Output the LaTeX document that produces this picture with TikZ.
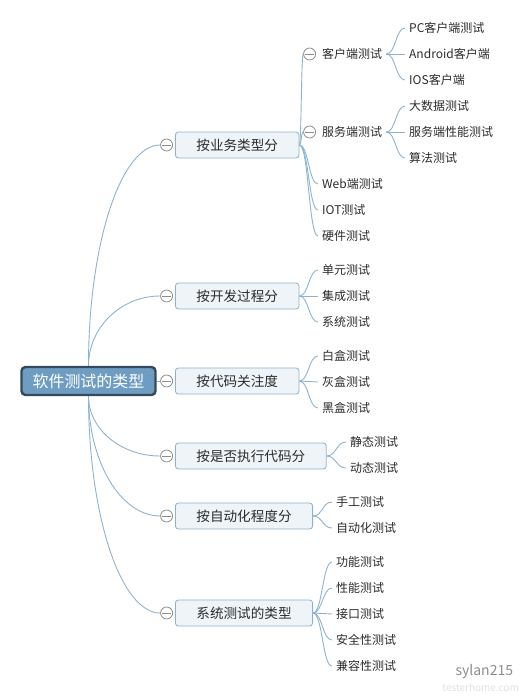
\documentclass[tikz,border=0pt]{standalone}
\usepackage{fontspec}
\setmainfont{Noto Sans CJK SC}
\usetikzlibrary{positioning,calc,backgrounds}

\definecolor{linkblue}{HTML}{8DB3CF}
\definecolor{rootfill}{HTML}{6E9DC1}
\definecolor{rootline}{HTML}{34495B}
\definecolor{topicfill}{HTML}{EEF4F8}
\definecolor{topicline}{HTML}{8EB1CB}
\definecolor{foldgray}{HTML}{8C8C8C}
\definecolor{textdark}{HTML}{2B2B2B}

\tikzset{
  root/.style={draw=rootline, fill=rootfill, line width=2.4pt, rounded corners=4pt,
    minimum height=28pt, inner xsep=11pt, text=white, font=\fontsize{16}{18}\selectfont},
  topic/.style={draw=topicline, fill=topicfill, line width=0.8pt, rounded corners=3pt,
    minimum height=26pt, inner xsep=21pt, inner ysep=0pt, anchor=west, text=textdark,
    font=\fontsize{13.6}{15}\selectfont},
  leaf/.style={anchor=west, inner xsep=4pt, inner ysep=2pt, text=textdark,
    font=\fontsize{12}{14}\selectfont},
  fold/.style={circle, draw=foldgray, fill=white, line width=0.8pt, minimum size=12pt,
    inner sep=0pt, path picture={\draw[foldgray, line width=0.8pt]
      ([xshift=-4.5pt]path picture bounding box.center) -- ([xshift=4.5pt]path picture bounding box.center);}},
  trunk/.style={draw=linkblue, line width=0.9pt, to path={let \p1=(\tikztostart), \p2=(\tikztotarget) in
      .. controls (\x1, \y1+0.55*\y2-0.55*\y1) and (\x2-0.55*\x2+0.55*\x1, \y2) .. (\tikztotarget)}},
  twig/.style={draw=linkblue, line width=0.9pt, to path={let \p1=(\tikztostart), \p2=(\tikztotarget) in
      .. controls (0.5*\x1+0.5*\x2, \y1) and (0.5*\x1+0.5*\x2, \y2) .. (\tikztotarget)}},
}

\begin{document}
\begin{tikzpicture}[x=1pt, y=-1pt]
\useasboundingbox (0,0) rectangle (523,697);

% centre topic
\node[root] (root) at (88.5,381) {软件测试的类型};

% main branches
\node[topic] (c1) at (175,145) {按业务类型分};
\node[topic] (c2) at (175,296) {按开发过程分};
\node[topic] (c3) at (175,381) {按代码关注度};
\node[topic] (c4) at (175,456) {按是否执行代码分};
\node[topic] (c5) at (175,516) {按自动化程度分};
\node[topic] (c6) at (175,613) {系统测试的类型};
\foreach \i in {1,...,6}
  \node[fold, left=2pt of c\i] (f\i) {};

% 按业务类型分
\node[leaf] (k1) at (318,54) {客户端测试};
\node[leaf] (k2) at (318,132) {服务端测试};
\node[fold, left=2pt of k1] (g1) {};
\node[fold, left=2pt of k2] (g2) {};
\foreach \ty/\t [count=\i] in {184/Web端测试, 210/IOT测试, 236/硬件测试}
  \node[leaf] (k\i x) at (318,\ty) {\t};
\foreach \ty/\t [count=\i] in {28/PC客户端测试, 54/Android客户端, 80/IOS客户端}
  \node[leaf] (p\i) at (405,\ty) {\t};
\foreach \ty/\t [count=\i] in {106/大数据测试, 132/服务端性能测试, 158/算法测试}
  \node[leaf] (q\i) at (405,\ty) {\t};

% other branches
\foreach \ty/\t [count=\i] in {270/单元测试, 296/集成测试, 322/系统测试}
  \node[leaf] (d\i) at (318,\ty) {\t};
\foreach \ty/\t [count=\i] in {356/白盒测试, 382/灰盒测试, 408/黑盒测试}
  \node[leaf] (b\i) at (318,\ty) {\t};
\foreach \ty/\t [count=\i] in {442/静态测试, 468/动态测试}
  \node[leaf] (e\i) at (346,\ty) {\t};
\foreach \ty/\t [count=\i] in {502/手工测试, 528/自动化测试}
  \node[leaf] (a\i) at (332,\ty) {\t};
\foreach \ty/\t [count=\i] in {562/功能测试, 588/性能测试, 614/接口测试, 640/安全性测试, 666/兼容性测试}
  \node[leaf] (s\i) at (332,\ty) {\t};

% watermark
\node[text=black!45, font=\fontsize{14}{14}\selectfont, anchor=west] (wm) at (452,672) {sylan215};
\node[text=black!12, font=\fontsize{10}{10}\selectfont, anchor=east, inner sep=1pt] (wm2) at (520,688) {testerhome.com};

\begin{scope}[on background layer]
\draw[trunk] (root.north) to (f1.west);
\draw[trunk] (root.north) to (f2.west);
\draw[linkblue, line width=0.9pt] (root.east) -- (f3.west);
\foreach \nd in {f4,f5,f6}
  \draw[trunk] (root.south) to (\nd.west);

\draw[twig] (c1.east) to (g1.west);
\draw[twig] (c1.east) to (g2.west);
\foreach \nd in {k1x,k2x,k3x}
  \draw[twig] (c1.east) to (\nd.west);
\foreach \nd in {p1,p2,p3}
  \draw[twig] (k1.east) to (\nd.west);
\foreach \nd in {q1,q2,q3}
  \draw[twig] (k2.east) to (\nd.west);
\foreach \nd in {d1,d2,d3}
  \draw[twig] (c2.east) to (\nd.west);
\foreach \nd in {b1,b2,b3}
  \draw[twig] (c3.east) to (\nd.west);
\foreach \nd in {e1,e2}
  \draw[twig] (c4.east) to (\nd.west);
\foreach \nd in {a1,a2}
  \draw[twig] (c5.east) to (\nd.west);
\foreach \nd in {s1,s2,s3,s4,s5}
  \draw[twig] (c6.east) to (\nd.west);
\end{scope}
\end{tikzpicture}
\end{document}
